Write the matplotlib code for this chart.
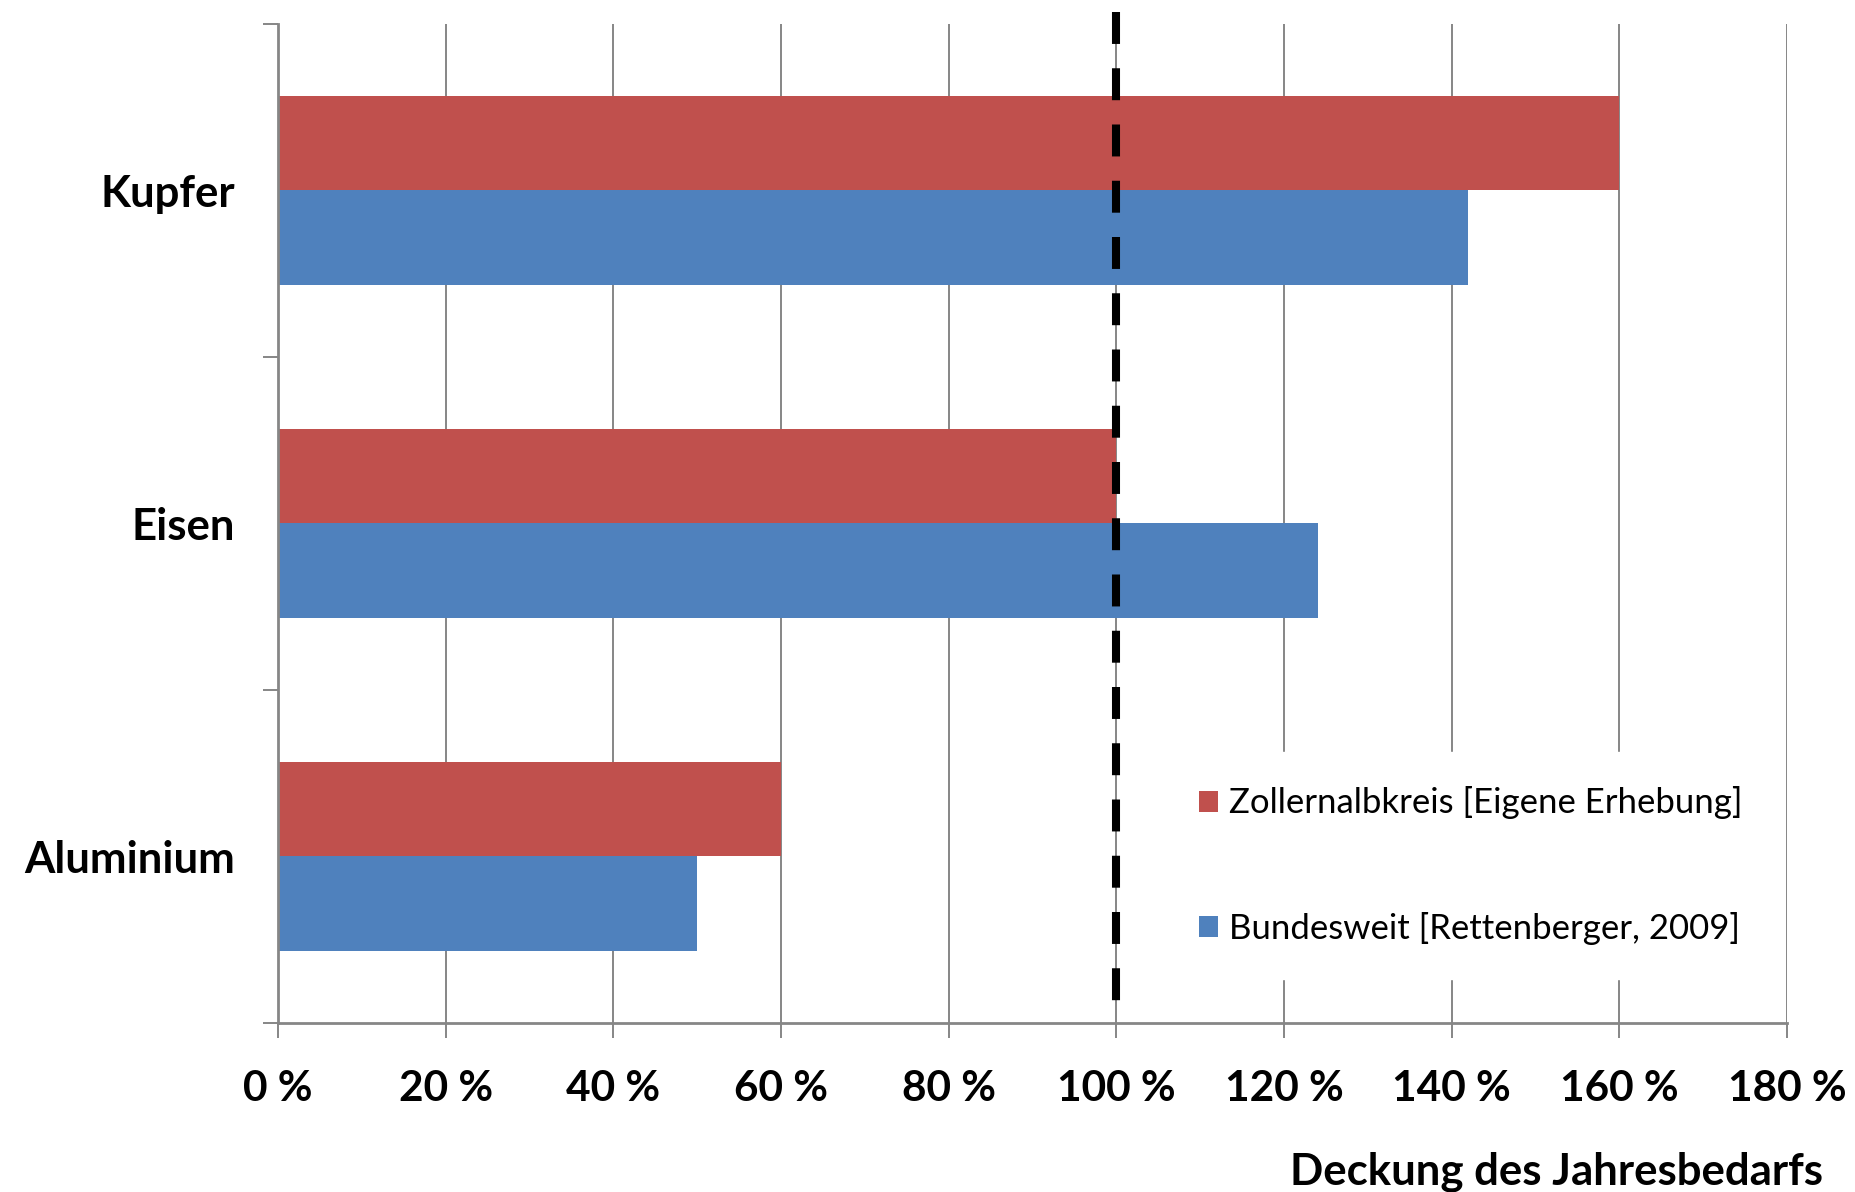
import numpy as np
import matplotlib.pyplot as plt

# ----------------------------------- Daten -----------------------------------

metalle = ['Aluminium', 'Eisen', 'Kupfer']
zollernalb = [60, 100, 160]    # Zollernalbkreis [Eigene Erhebung], in %
bundesweit = [50, 124, 142]    # Bundesweit [Rettenberger, 2009], in %
x_ticks = [0, 20, 40, 60, 80, 100, 120, 140, 160, 180]

label_rot = 'Zollernalbkreis [Eigene Erhebung]'
label_blau = 'Bundesweit [Rettenberger, 2009]'

# ----------------------------------- Plot ------------------------------------

plt.rcParams['font.family'] = ['Lato', 'DejaVu Sans']
plt.rcParams['lines.scale_dashes'] = False

rot = '#C0504D'
blau = '#4F81BD'
grau = '#868686'

fig = plt.figure(figsize=(18.56, 11.92), dpi=100)
ax = fig.add_axes([0.1498, 0.1418, 0.9628 - 0.1498, 0.9799 - 0.1418])

y = np.arange(len(metalle))
h = 0.284

ax.barh(y + h / 2, zollernalb, height=h, color=rot, label=label_rot, zorder=2)
ax.barh(y - h / 2, bundesweit, height=h, color=blau, label=label_blau, zorder=2)

ax.set_xlim(0, 180)
ax.set_ylim(-0.5, 2.5)

# vertikale Gitterlinien
ax.set_xticks(x_ticks)
ax.set_xticklabels([f'{v} %' for v in x_ticks], fontsize=30.5, fontweight='bold')
ax.xaxis.grid(True, color=grau, linewidth=1.4, zorder=0)
ax.set_axisbelow(True)

# Kategorien: Ticks an den Grenzen, Beschriftung in der Mitte
ax.set_yticks(np.arange(-0.5, 3.0, 1.0))
ax.set_yticklabels([])
ax.set_yticks(y, minor=True)
ax.set_yticklabels(metalle, minor=True, fontsize=31.5, fontweight='bold')
ax.tick_params(axis='y', which='minor', length=0, pad=31)
ax.tick_params(axis='y', which='major', length=11, width=1.4, color=grau)
ax.tick_params(axis='x', length=11, width=1.4, color=grau, pad=23)

for s in ['top', 'right']:
    ax.spines[s].set_visible(False)
for s in ['left', 'bottom']:
    ax.spines[s].set_color(grau)
    ax.spines[s].set_linewidth(2)

# 100 %-Linie, von oben nach unten gestrichelt
ax.plot([100, 100], [2.536, -0.5], color='black', linewidth=5.8,
        linestyle=(0, (23, 17.5)), clip_on=False, zorder=4)

leg = ax.legend(loc='upper left', bbox_to_anchor=(0.576, 0.289),
                fontsize=25, frameon=True, fancybox=False,
                handlelength=0.55, handleheight=0.55, handletextpad=0.3,
                labelspacing=2.66, borderpad=1.0)
leg.get_frame().set_facecolor('white')
leg.get_frame().set_edgecolor('white')
leg.get_frame().set_alpha(1)
leg.set_zorder(3)

fig.text(1823 / 1856, 0.006, 'Deckung des Jahresbedarfs', ha='right',
         va='baseline', fontsize=31.5, fontweight='bold')

plt.savefig('out.png', dpi=100)
